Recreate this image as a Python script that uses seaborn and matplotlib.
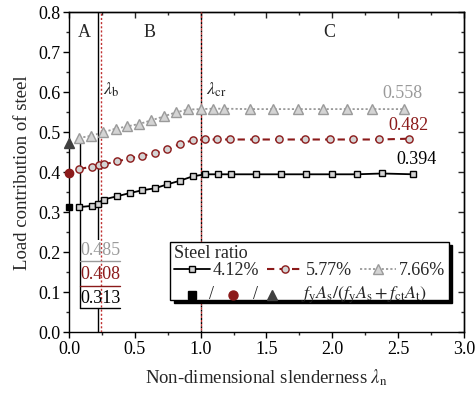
import numpy as np
import pandas as pd
import matplotlib
matplotlib.use("Agg")
import matplotlib.pyplot as plt
from matplotlib.lines import Line2D
from matplotlib.patches import Rectangle
from matplotlib.ticker import MultipleLocator
import seaborn as sns

# ---------------- data ----------------
x_412 = [0.076, 0.172, 0.217, 0.263, 0.364, 0.46, 0.555, 0.652, 0.748, 0.843, 0.94,
         1.036, 1.131, 1.227, 1.42, 1.61, 1.80, 1.995, 2.184, 2.38, 2.616]
y_412 = [0.313, 0.316, 0.322, 0.332, 0.340, 0.348, 0.355, 0.360, 0.370, 0.379, 0.390,
         0.395, 0.395, 0.395, 0.395, 0.395, 0.395, 0.395, 0.395, 0.397, 0.395]

x_577 = [0.076, 0.172, 0.23, 0.263, 0.364, 0.46, 0.555, 0.652, 0.748, 0.843, 0.94,
         1.03, 1.124, 1.22, 1.409, 1.598, 1.79, 1.98, 2.154, 2.356, 2.583]
y_577 = [0.408, 0.414, 0.417, 0.420, 0.427, 0.435, 0.441, 0.448, 0.457, 0.471, 0.480,
         0.482, 0.482, 0.482, 0.482, 0.482, 0.482, 0.482, 0.482, 0.482, 0.484]

x_766 = [0.076, 0.167, 0.258, 0.354, 0.444, 0.535, 0.626, 0.722, 0.813, 0.904, 1.005,
         1.093, 1.18, 1.371, 1.553, 1.74, 1.932, 2.11, 2.30, 2.545]
y_766 = [0.486, 0.491, 0.500, 0.509, 0.515, 0.521, 0.530, 0.540, 0.550, 0.557, 0.558,
         0.559, 0.559, 0.558, 0.558, 0.558, 0.558, 0.558, 0.558, 0.558]

ratio_labels = ["4.12%", "5.77%", "7.66%"]
section_ratio = [0.313, 0.398, 0.474]   # fyAs/(fyAs+fctAt) at lambda=0
lambda_b = 0.22
lambda_b2 = 0.24
lambda_cr = 1.0
end_labels = ["0.394", "0.482", "0.558"]
start_labels = ["0.313", "0.408", "0.485"]
regions = ["A", "B", "C"]
region_x = [0.115, 0.61, 1.98]

# ---------------- style ----------------
sns.set_theme(style="ticks")
plt.rcParams["font.family"] = ["Liberation Serif", "DejaVu Serif"]
plt.rcParams["mathtext.fontset"] = "stix"
plt.rcParams["axes.linewidth"] = 1.0

BLACK = "#000000"
RED = "#8B1A1A"
GRAY = "#9a9a9a"
FILL = "#d4d4d4"
FS = 13

fig = plt.figure(figsize=(4.77, 3.95), dpi=100)
ax = fig.add_axes([0.1447, 0.1587, 0.828, 0.8102])

# vertical reference lines
ax.axvline(lambda_b, color=BLACK, lw=1.0, zorder=1)
ax.add_patch(Rectangle((0.083, 0.06), 0.303, 0.17, facecolor="white",
                       edgecolor="none", zorder=2))
ax.axvline(lambda_b2, color="#c03030", lw=1.0, ls=(0, (1.5, 1.5)), zorder=3)
ax.axvline(lambda_cr, color=BLACK, lw=1.0, ls=(0, (1.5, 1.5)), zorder=3)
ax.axvline(lambda_cr, color="#c03030", lw=1.0, ls=(1.5, (1.5, 1.5)), zorder=3)

# series
df1 = pd.DataFrame({"x": x_412, "y": y_412})
df2 = pd.DataFrame({"x": x_577, "y": y_577})
df3 = pd.DataFrame({"x": x_766, "y": y_766})
sns.lineplot(data=df1, x="x", y="y", ax=ax, color=BLACK, lw=1.3, marker="s",
             ms=4.5, mfc=FILL, mec=BLACK, mew=1.0, sort=False, estimator=None, zorder=5)
sns.lineplot(data=df2, x="x", y="y", ax=ax, color=RED, lw=1.5, ls=(0, (3.5, 2.5)),
             marker="o", ms=5.2, mfc=FILL, mec=RED, mew=1.0, sort=False, estimator=None, zorder=5)
sns.lineplot(data=df3, x="x", y="y", ax=ax, color=GRAY, lw=1.3, ls=(0, (1.2, 1.2)),
             marker="^", ms=6.5, mfc=FILL, mec=GRAY, mew=1.0, sort=False, estimator=None, zorder=5)

# section ratio markers at lambda = 0
for val, mk, col, ms in zip(section_ratio, ["s", "o", "^"], [BLACK, RED, "#404040"], [5, 6, 7]):
    ax.plot([0.0], [val], marker=mk, ms=ms, color=col, ls="none", clip_on=False, zorder=6)

# start-value annotation box
ax.plot([0.083, 0.083], [0.06, y_766[0]], color=BLACK, lw=1.0, zorder=4)
for yy, col, lab, ty in zip([0.178, 0.116, 0.06], [GRAY, RED, BLACK],
                            start_labels[::-1], [0.205, 0.145, 0.085]):
    ax.plot([0.083, 0.386], [yy, yy], color=col, lw=1.0, zorder=4)
    ax.text(0.237, ty, lab, color=col, fontsize=FS, ha="center", va="center", zorder=4)

# end-value labels
ax.text(2.64, 0.431, end_labels[0], color=BLACK, fontsize=FS, ha="center", va="center")
ax.text(2.58, 0.518, end_labels[1], color=RED, fontsize=FS, ha="center", va="center")
ax.text(2.53, 0.597, end_labels[2], color=GRAY, fontsize=FS, ha="center", va="center")

# region labels
for rx, r in zip(region_x, regions):
    ax.text(rx, 0.75, r, fontsize=FS, ha="center", va="center")
ax.text(0.32, 0.606, r"$\lambda_\mathrm{b}$", fontsize=FS, ha="center", va="center")
ax.text(1.12, 0.606, r"$\lambda_\mathrm{cr}$", fontsize=FS, ha="center", va="center")

# axes
ax.set_xlim(0, 3.0)
ax.set_ylim(0, 0.8)
ax.xaxis.set_major_locator(MultipleLocator(0.5))
ax.xaxis.set_minor_locator(MultipleLocator(0.25))
ax.yaxis.set_major_locator(MultipleLocator(0.1))
ax.yaxis.set_minor_locator(MultipleLocator(0.05))
ax.xaxis.set_major_formatter(matplotlib.ticker.FormatStrFormatter("%.1f"))
ax.yaxis.set_major_formatter(matplotlib.ticker.FormatStrFormatter("%.1f"))
ax.tick_params(which="major", direction="out", length=4, width=1.0, labelsize=FS,
               colors=BLACK, pad=2)
ax.tick_params(which="minor", direction="out", length=2.5, width=1.0)
for s in ax.spines.values():
    s.set_color(BLACK)
    s.set_visible(True)

top = ax.secondary_xaxis("top")
top.xaxis.set_major_locator(MultipleLocator(0.5))
top.xaxis.set_minor_locator(MultipleLocator(0.25))
top.tick_params(which="major", direction="in", length=4, width=1.0, labeltop=False)
top.tick_params(which="minor", direction="in", length=2.5, width=1.0)
right = ax.secondary_yaxis("right")
right.yaxis.set_major_locator(MultipleLocator(0.1))
right.yaxis.set_minor_locator(MultipleLocator(0.05))
right.tick_params(which="major", direction="in", length=4, width=1.0, labelright=False)
right.tick_params(which="minor", direction="in", length=2.5, width=1.0)

ax.set_xlabel(r"Non-dimensional slenderness $\lambda_\mathrm{n}$", fontsize=FS + 0.5, labelpad=7)
ax.set_ylabel("Load contribution of steel", fontsize=FS + 0.5, labelpad=5)

# legend (row 1 via legend; row 2 glyphs drawn inside the same frame)
h1 = Line2D([], [], color=BLACK, lw=1.3, marker="s", ms=4.5, mfc=FILL, mec=BLACK)
h2 = Line2D([], [], color=RED, lw=1.5, ls=(0, (3.5, 2.5)), marker="o", ms=5.2, mfc=FILL, mec=RED)
h3 = Line2D([], [], color=GRAY, lw=1.3, ls=(0, (1.2, 1.2)), marker="^", ms=6.5, mfc=FILL, mec=GRAY)
blank = Line2D([], [], color="none")
leg = ax.legend([h1, blank, h2, blank, h3, blank],
                [ratio_labels[0], " ", ratio_labels[1], " ", ratio_labels[2], " "],
                ncol=3, title="Steel ratio", fontsize=FS, title_fontsize=FS,
                loc="upper left", bbox_to_anchor=(0.256, 0.283), frameon=True,
                fancybox=False, edgecolor=BLACK, framealpha=1,
                shadow={"color": "black", "alpha": 1, "ox": 2.5, "oy": -2.5},
                handlelength=2.0, handletextpad=0.15, columnspacing=0.45,
                labelspacing=0.0, borderpad=0.2, borderaxespad=0, alignment="left")
leg.get_frame().set_linewidth(1.0)
leg.set_zorder(10)

row2_y = 0.117
ax.plot([0.311], [row2_y], marker="s", ms=5.5, color=BLACK, ls="none",
        transform=ax.transAxes, zorder=11, clip_on=False)
ax.text(0.36, row2_y, "/", fontsize=FS, ha="center", va="center", transform=ax.transAxes, zorder=11)
ax.plot([0.415], [row2_y], marker="o", ms=6.5, color=RED, ls="none",
        transform=ax.transAxes, zorder=11, clip_on=False)
ax.text(0.471, row2_y, "/", fontsize=FS, ha="center", va="center", transform=ax.transAxes, zorder=11)
ax.plot([0.514], [row2_y], marker="^", ms=7.5, color="#404040", ls="none",
        transform=ax.transAxes, zorder=11, clip_on=False)
ax.text(0.588, row2_y,
        r"$f_\mathrm{y}A_\mathrm{s}/(f_\mathrm{y}A_\mathrm{s}+f_\mathrm{ct}A_\mathrm{t})$",
        fontsize=FS, ha="left", va="center", transform=ax.transAxes, zorder=11)

fig.savefig("out.png", dpi=100)
